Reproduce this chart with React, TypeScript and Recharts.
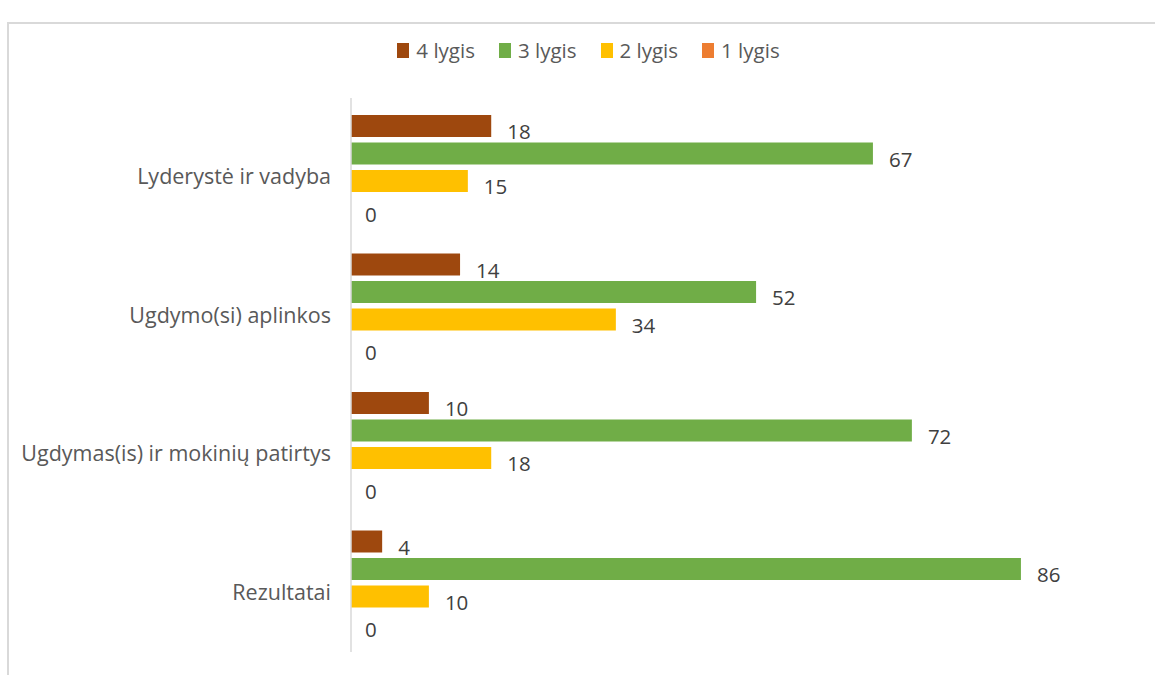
import { BarChart, Bar, XAxis, YAxis } from 'recharts'

const categories = ['Lyderystė ir vadyba', 'Ugdymo(si) aplinkos', 'Ugdymas(is) ir mokinių patirtys', 'Rezultatai']
const level4 = [18, 14, 10, 4]
const level3 = [67, 52, 72, 86]
const level2 = [15, 34, 18, 10]
const level1 = [0, 0, 0, 0]

const series = [
  { key: 'l4', name: '4 lygis', color: '#9E480E', values: level4 },
  { key: 'l3', name: '3 lygis', color: '#70AD47', values: level3 },
  { key: 'l2', name: '2 lygis', color: '#FFC000', values: level2 },
  { key: 'l1', name: '1 lygis', color: '#ED7D31', values: level1 },
]

const data = categories.map((name, i) => {
  const row: Record<string, string | number> = { name }
  series.forEach((s) => (row[s.key] = s.values[i]))
  return row
})

const FONT = '"Open Sans", sans-serif'

const CategoryTick = (props: any) => {
  const { x, y, payload } = props
  return (
    <text x={x - 12} y={y + 10} dy={7} textAnchor="end" fill="#595959" fontSize={21.5} fontFamily={FONT}>
      {payload.value}
    </text>
  )
}

const ValueLabel = (props: any) => {
  const { x, y, width, height, value } = props
  const zero = Number(value) === 0
  return (
    <text
      x={x + (zero ? 0 : width) + (zero ? 14 : 16)}
      y={y + height / 2 + 6}
      dy={7}
      fill="#404040"
      fontSize={20.5}
      fontFamily={FONT}
    >
      {value}
    </text>
  )
}

function LegendRow() {
  return (
    <div
      style={{
        position: 'absolute',
        top: 36,
        left: 11,
        width: 1155,
        display: 'flex',
        justifyContent: 'center',
        gap: 24,
        fontFamily: FONT,
        fontSize: 20.5,
        color: '#595959',
      }}
    >
      {series.map((s) => (
        <div key={s.key} style={{ display: 'flex', alignItems: 'center', gap: 7 }}>
          <span style={{ width: 12, height: 15, background: s.color, display: 'inline-block' }} />
          <span>{s.name}</span>
        </div>
      ))}
    </div>
  )
}

export default function App() {
  return (
    <div style={{ position: 'absolute', left: 0, top: 0, width: 1155, height: 675, background: '#fff', overflow: 'hidden' }}>
      <div
        style={{
          position: 'absolute',
          left: 7,
          top: 22,
          width: 1160,
          height: 670,
          borderLeft: '2px solid #d9d9d9',
          borderTop: '2px solid #d9d9d9',
        }}
      />
      <LegendRow />
      <div style={{ position: 'absolute', left: 0, top: 0 }}>
        <BarChart
          width={1155}
          height={675}
          data={data}
          layout="vertical"
          margin={{ top: 98, right: 25, bottom: 23, left: 11 }}
          barSize={22}
          barGap={5.5}
        >
          <XAxis type="number" domain={[0, 100]} hide />
          <YAxis
            type="category"
            dataKey="name"
            width={340}
            axisLine={{ stroke: '#d9d9d9', strokeWidth: 1.5 }}
            tickLine={false}
            tick={<CategoryTick />}
            interval={0}
          />
          {series.map((s) => (
            <Bar
              key={s.key}
              dataKey={s.key}
              name={s.name}
              fill={s.color}
              isAnimationActive={false}
              minPointSize={0.01}
              label={<ValueLabel />}
            />
          ))}
        </BarChart>
      </div>
    </div>
  )
}
